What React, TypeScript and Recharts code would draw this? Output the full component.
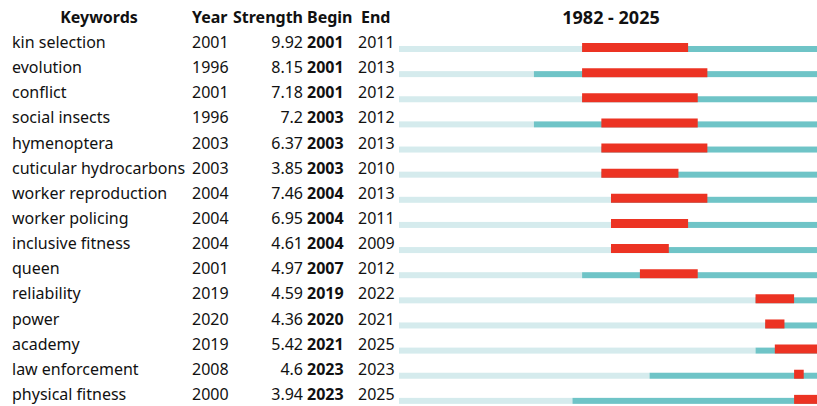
import { Bar, BarChart, XAxis, YAxis } from "recharts";

const keywords = [
  "kin selection", "evolution", "conflict", "social insects", "hymenoptera",
  "cuticular hydrocarbons", "worker reproduction", "worker policing", "inclusive fitness", "queen",
  "reliability", "power", "academy", "law enforcement", "physical fitness",
];
const years = [2001, 1996, 2001, 1996, 2003, 2003, 2004, 2004, 2004, 2001, 2019, 2020, 2019, 2008, 2000];
const strengths = [9.92, 8.15, 7.18, 7.2, 6.37, 3.85, 7.46, 6.95, 4.61, 4.97, 4.59, 4.36, 5.42, 4.6, 3.94];
const begins = [2001, 2001, 2001, 2003, 2003, 2003, 2004, 2004, 2004, 2007, 2019, 2020, 2021, 2023, 2023];
const ends = [2011, 2013, 2012, 2012, 2013, 2010, 2013, 2011, 2009, 2012, 2022, 2021, 2025, 2023, 2025];
const firstYear = 1982;
const lastYear = 2025;

const data = keywords.map((k, i) => ({
  keyword: k,
  year: years[i],
  strength: strengths[i],
  begin: begins[i],
  end: ends[i],
  before: [firstYear, years[i]],
  active: [years[i], lastYear + 1],
  burst: [begins[i], ends[i] + 1],
}));

const FONT = "'Noto Sans', 'Open Sans', sans-serif";
const LIGHT = "#d5ebed";
const TEAL = "#6fc4c7";
const RED = "#ec3323";

function thinBar(fill: string) {
  return (p: any) => {
    if (!p.width || p.width <= 0) return <g />;
    return <rect x={p.x} y={p.y + p.height - 6} width={p.width} height={6} fill={fill} />;
  };
}

function RowTick(props: any) {
  const { y, payload } = props;
  const d = data[payload.index];
  const ty = y - 5.5;
  return (
    <g fontFamily={FONT} fontSize={16} fill="#111">
      <text x={12} y={ty} dominantBaseline="central">{d.keyword}</text>
      <text x={192} y={ty} dominantBaseline="central">{d.year}</text>
      <text x={303} y={ty} dominantBaseline="central" textAnchor="end">{String(d.strength)}</text>
      <text x={307} y={ty} dominantBaseline="central" fontWeight="bold">{d.begin}</text>
      <text x={358} y={ty} dominantBaseline="central">{d.end}</text>
    </g>
  );
}

const head: React.CSSProperties = {
  position: "absolute", top: 17, transform: "translateY(-50%)", fontFamily: FONT,
  fontSize: 16, fontWeight: "bold", color: "#111", lineHeight: 1, whiteSpace: "nowrap",
};

export default function App() {
  return (
    <div style={{ position: "absolute", left: 0, top: 0, width: 817, height: 406, overflow: "hidden", background: "#fff" }}>
      <div style={{ ...head, left: 99, transform: "translate(-50%,-50%)" }}>Keywords</div>
      <div style={{ ...head, left: 192 }}>Year</div>
      <div style={{ ...head, left: 233 }}>Strength</div>
      <div style={{ ...head, left: 307 }}>Begin</div>
      <div style={{ ...head, left: 361 }}>End</div>
      <div style={{ ...head, left: 611, fontSize: 18, transform: "translate(-50%,-50%)" }}>{`${firstYear} - ${lastYear}`}</div>
      <BarChart
        width={823}
        height={412}
        data={data}
        layout="vertical"
        margin={{ top: 35, right: 0, left: 0, bottom: 0 }}
        barSize={9}
        barGap={-9}
        barCategoryGap={0}
      >
        <XAxis type="number" domain={[firstYear, lastYear + 1]} hide allowDataOverflow />
        <YAxis
          type="category"
          dataKey="keyword"
          width={399}
          axisLine={false}
          tickLine={false}
          tick={<RowTick />}
          interval={0}
        />
        <Bar dataKey="before" fill={LIGHT} shape={thinBar(LIGHT)} isAnimationActive={false} />
        <Bar dataKey="active" fill={TEAL} shape={thinBar(TEAL)} isAnimationActive={false} />
        <Bar dataKey="burst" fill={RED} isAnimationActive={false} />
      </BarChart>
    </div>
  );
}
